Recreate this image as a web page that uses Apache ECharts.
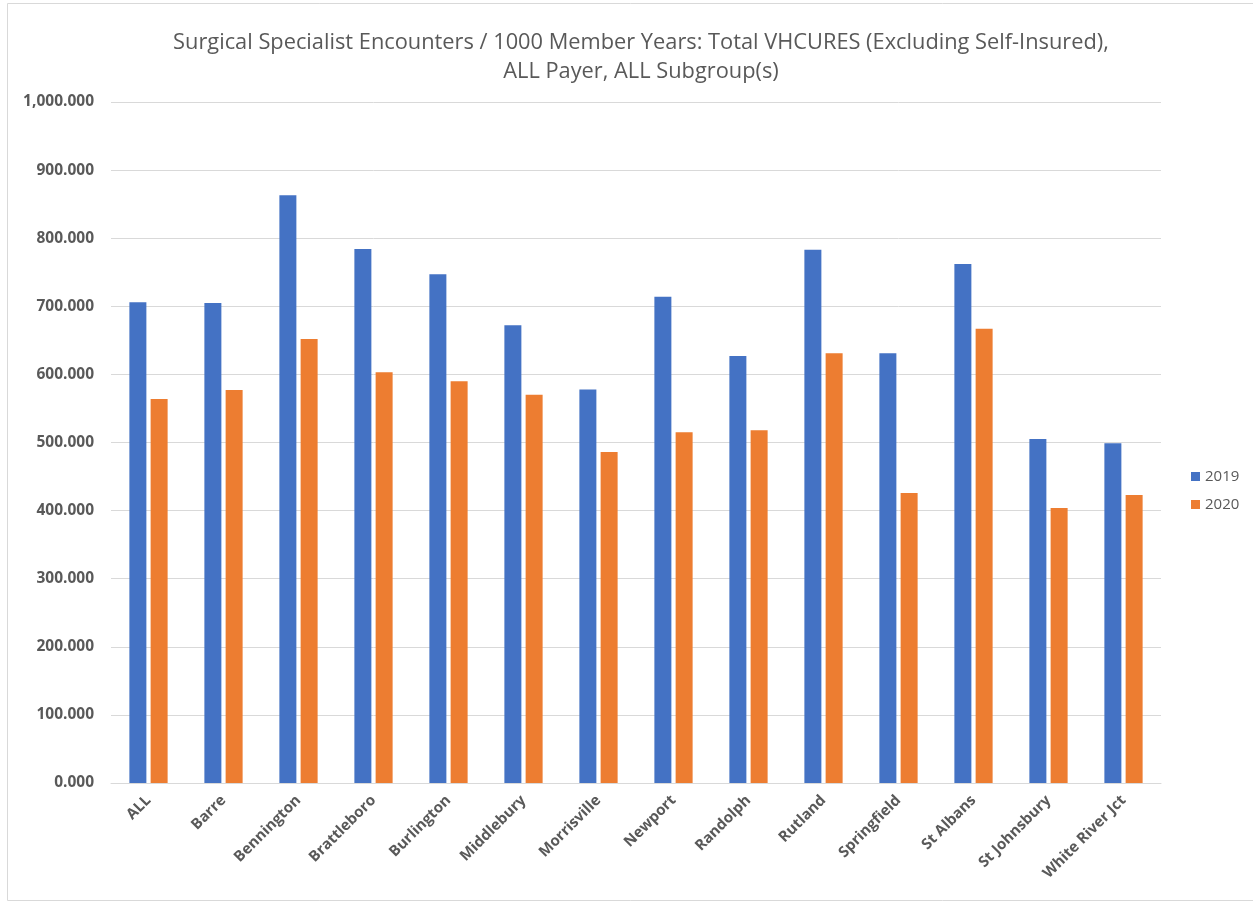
<!DOCTYPE html>
<html><head><meta charset="utf-8">
<script src="https://cdn.jsdelivr.net/npm/echarts@6/dist/echarts.min.js"></script>
<style>html,body{margin:0;padding:0;background:#fff}#c{width:1253px;height:903px}</style>
</head><body><div id="c"></div>
<script>
const categories = ["ALL","Barre","Bennington","Brattleboro","Burlington","Middlebury","Morrisville","Newport","Randolph","Rutland","Springfield","St Albans","St Johnsbury","White River Jct"];
const values2019 = [706,705,863,784,747,672,578,714,627,783,631,762,505,499];
const values2020 = [564,577,652,603,590,570,486,515,518,631,426,667,404,423];
const seriesNames = ["2019","2020"];
const titleText = "Surgical Specialist Encounters / 1000 Member Years: Total VHCURES (Excluding Self-Insured),\nALL Payer, ALL Subgroup(s)";

const chart = echarts.init(document.getElementById('c'), null, {renderer:'canvas'});
const font = "'Open Sans', 'Liberation Sans', sans-serif";
chart.setOption({
  animation:false,
  textStyle:{fontFamily:font},
  graphic:[{type:'rect',shape:{x:7.5,y:3.5,width:1260,height:897},style:{fill:null,stroke:'#d9d9d9',lineWidth:1},silent:true}],
  title:{text:titleText,top:23,textAlign:'center',left:636,
    textStyle:{fontFamily:font,fontSize:21.8,fontWeight:'normal',color:'#595959',lineHeight:29}},
  legend:{orient:'vertical',left:1186,top:464,itemWidth:9,itemHeight:9,itemGap:13,icon:'rect',
    textStyle:{fontFamily:font,fontSize:15,color:'#595959'},data:seriesNames},
  grid:{left:111,right:92,top:102,bottom:120,containLabel:false},
  xAxis:{type:'category',data:categories,
    axisLine:{lineStyle:{color:'#d9d9d9',width:1}},axisTick:{show:false},
    axisLabel:{interval:0,rotate:45,color:'#595959',fontWeight:'bold',fontSize:15,fontFamily:font,margin:15}},
  yAxis:{type:'value',min:0,max:1000,interval:100,
    axisLine:{show:false},axisTick:{show:false},
    splitLine:{lineStyle:{color:'#d9d9d9',width:1}},
    axisLabel:{color:'#595959',fontWeight:'bold',fontSize:15.5,fontFamily:font,margin:17,
      formatter:v=>v.toLocaleString('en-US',{minimumFractionDigits:3,maximumFractionDigits:3})}},
  series:[
    {name:seriesNames[0],type:'bar',data:values2019,barWidth:17,barGap:'25%',itemStyle:{color:'#4472c4'}},
    {name:seriesNames[1],type:'bar',data:values2020,barWidth:17,barGap:'25%',itemStyle:{color:'#ed7d31'}}
  ]
});
</script></body></html>
